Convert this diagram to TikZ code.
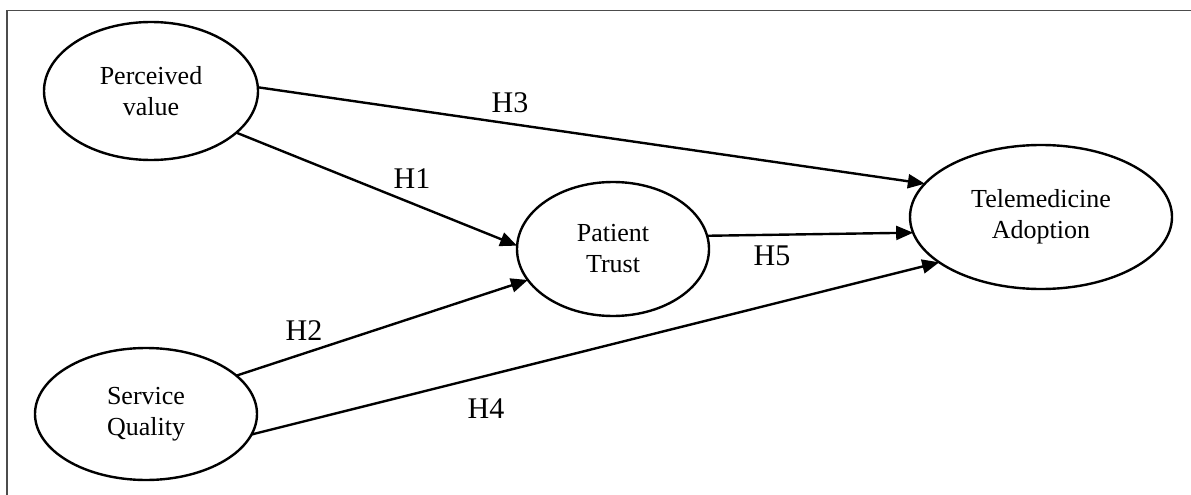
\documentclass[tikz,border=0pt]{standalone}
\usepackage{fontspec}
\setmainfont{Liberation Serif}
\usetikzlibrary{shapes.geometric,arrows.meta}
\begin{document}
\begin{tikzpicture}[x=1pt,y=-1pt,
  construct/.style={draw=black,line width=2.4pt,ellipse,inner sep=0pt,outer sep=0pt,align=center,font=\fontsize{26}{31}\selectfont},
  path/.style={draw=black,line width=2.4pt,-{Triangle[length=17pt,width=14pt]}},
  hyp/.style={font=\fontsize{30}{34}\selectfont,inner sep=0pt}]
\useasboundingbox (0,0) rectangle (1191,495);
\draw[line width=1.5pt,draw=black!70] (7,495) -- (7,10.5) -- (1191,10.5);

\node[construct,minimum width=214pt,minimum height=138pt] (pv) at (151,91) {Perceived\\value};
\node[construct,minimum width=222pt,minimum height=132pt] (sq) at (146,414) {Service\\Quality};
\node[construct,minimum width=192pt,minimum height=134pt] (pt) at (613,249) {Patient\\Trust};
\node[construct,minimum width=262pt,minimum height=144pt] (ta) at (1041,217) {Telemedicine\\Adoption};

\draw[path] (pv.2) -- (ta.164.3);
\draw[path] (pv.-26.3) -- (pt.178);
\draw[path] (sq.23.6) -- (pt.200.5);
\draw[path] (sq.-11) -- (ta.204.8);
\draw[path] (pt.8.6) -- (ta.187);

\node[hyp] (h3) at (510,103) {H3};
\node[hyp] (h1) at (412,179) {H1};
\node[hyp] (h2) at (304,331) {H2};
\node[hyp] (h4) at (486,409) {H4};
\node[hyp] (h5) at (772,256) {H5};
\end{tikzpicture}
\end{document}
